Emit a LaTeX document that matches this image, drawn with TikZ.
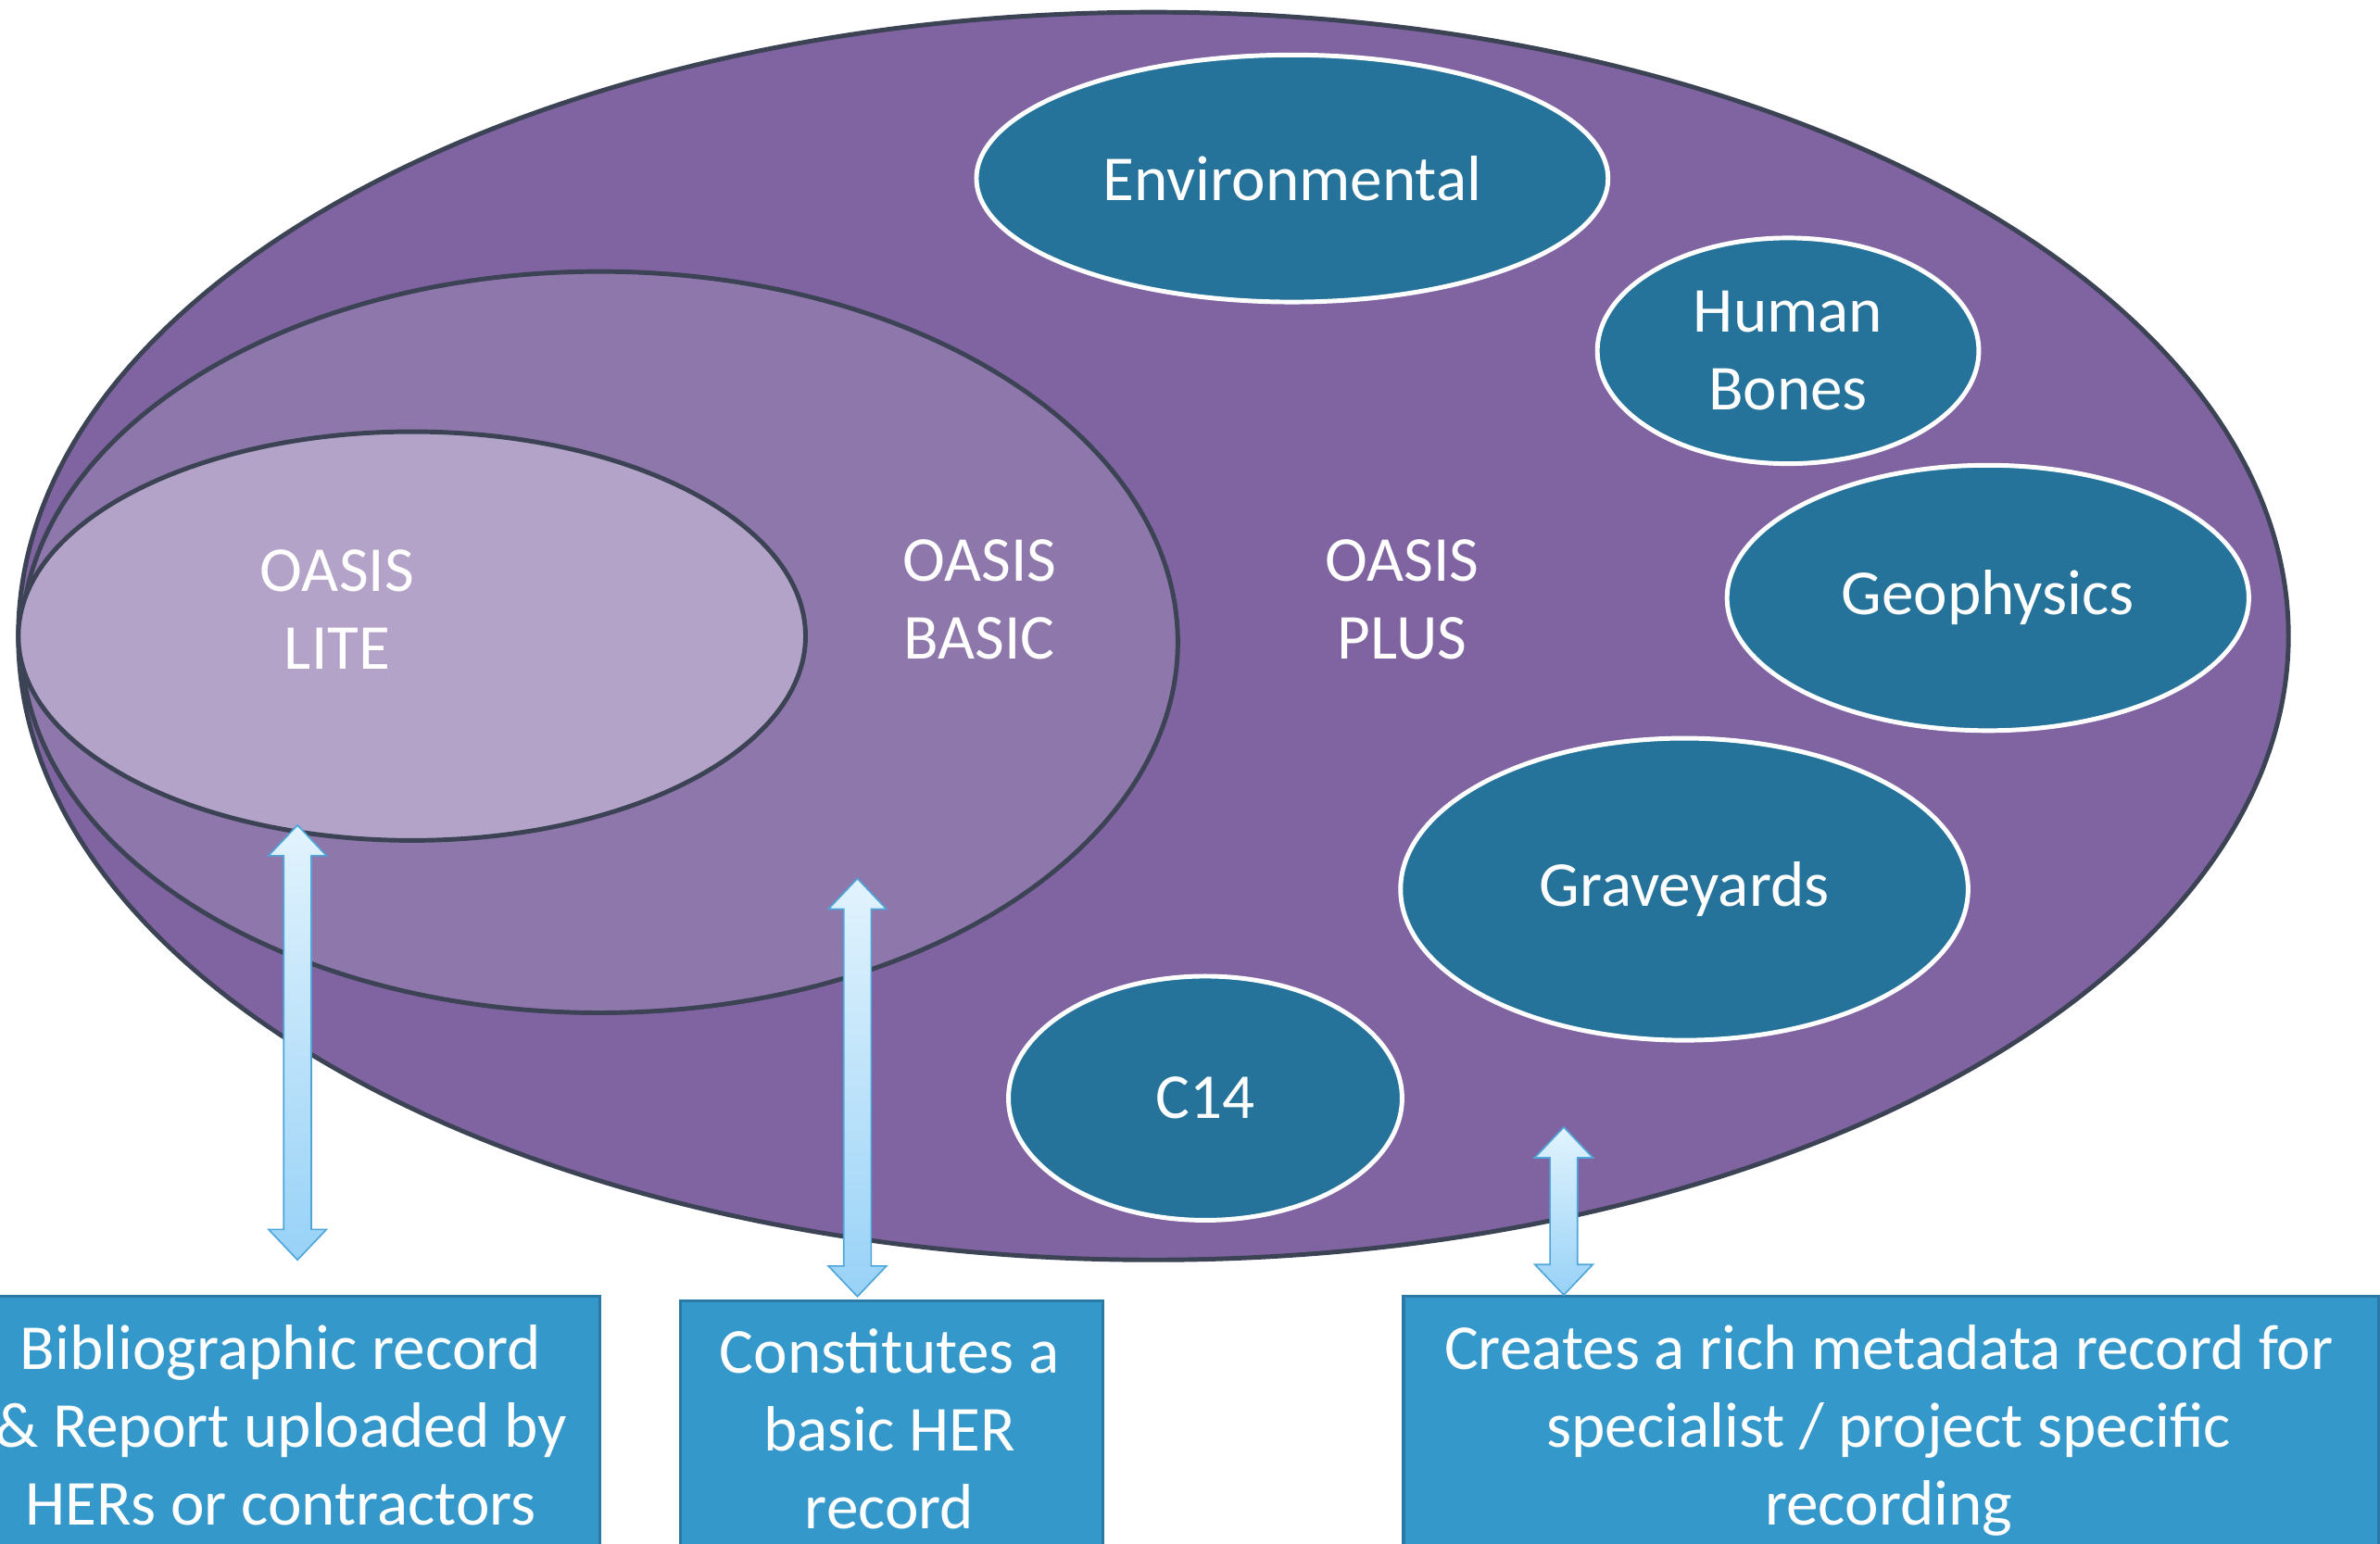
\documentclass[tikz,border=0pt]{standalone}
\usepackage{fontspec}
\setmainfont{Carlito}
\usetikzlibrary{shapes.geometric,calc}
\definecolor{plusc}{HTML}{8064A2}
\definecolor{basicc}{HTML}{8E77AB}
\definecolor{litec}{HTML}{B3A3C8}
\definecolor{edgec}{HTML}{3C4355}
\definecolor{tealc}{HTML}{25739A}
\definecolor{boxc}{HTML}{3598CB}
\definecolor{boxedge}{HTML}{2B7AA5}
\definecolor{arrtop}{HTML}{E2F3FD}
\definecolor{arrbot}{HTML}{98D2F7}
\definecolor{arredge}{HTML}{4FA6DA}
\newcommand\diagfont{\fontsize{42}{51}\selectfont}
\newcommand\hdarrow[2]{%
  \path[arr] let \p1=(#1), \p2=(#2) in
    (\x1,\y1) -- ++(19pt,-20pt) -- ++(-10pt,0pt) -- (\x1+9pt,\y2+20pt)
    -- ++(10pt,0pt) -- (\x2,\y2) -- ++(-19pt,20pt) -- ++(10pt,0pt)
    -- (\x1-9pt,\y1-20pt) -- ++(-10pt,0pt) -- cycle;}
\begin{document}
\begin{tikzpicture}[x=1pt,y=-1pt,
  level/.style={ellipse, draw=edgec, line width=3pt, inner sep=0pt},
  topic/.style={ellipse, fill=tealc, draw=white, line width=3pt, inner sep=0pt,
    text=white, font=\diagfont, align=center},
  lbl/.style={text=white, font=\diagfont, align=center, anchor=base, inner sep=0pt},
  infobox/.style={rectangle, fill=boxc, draw=boxedge, line width=2pt, inner sep=0pt, anchor=north west},
  arr/.style={top color=arrtop, bottom color=arrbot, draw=arredge, line width=1pt, line join=miter}]
\useasboundingbox (0,0) rectangle (1560,1011.7);
\clip (0,0) rectangle (1560,1011.7);

% nested levels
\node[level, fill=plusc, minimum width=1488pt, minimum height=818pt] (plus) at (756,417) {};
\node[level, fill=basicc, minimum width=758pt, minimum height=486pt] (basic) at (393,421) {};
\node[level, fill=litec, minimum width=516pt, minimum height=268pt] (lite) at (270,417) {};

% specialist topics
\node[topic, minimum width=414pt, minimum height=162pt] (env) at (847,117) {Environmental};
\node[topic, minimum width=250pt, minimum height=148pt] (hb) at (1172,230) {Human\\Bones};
\node[topic, minimum width=342pt, minimum height=174pt] (geo) at (1303,392) {Geophysics};
\node[topic, minimum width=372pt, minimum height=198pt] (grave) at (1104,583) {Graveyards};
\node[topic, minimum width=258pt, minimum height=160pt] (c14) at (790,720) {C14};

% level labels (anchor = baseline of last line)
\node[lbl] (tlite) at (221,439) {OASIS\\LITE};
\node[lbl] (tbasic) at (642,432) {OASIS\\BASIC};
\node[lbl] (tplus) at (919,432) {OASIS\\PLUS};

% boxes
\node[infobox, minimum width=416pt, minimum height=200pt] (box1) at (-24,849) {};
\node[infobox, minimum width=277pt, minimum height=200pt] (box2) at (445,852) {};
\node[infobox, minimum width=639pt, minimum height=200pt] (box3) at (919,849) {};
\node[lbl] (t1) at (184,1000) {Bibliographic record\\\& Report uploaded by\\HERs or contractors};
\node[lbl] (t2) at (583,1002) {Constitutes a\\basic HER\\record};
\node[lbl] (t3) at (1238,1000) {Creates a rich metadata record for\\specialist / project specific\\recording};

% arrows
\coordinate (a1t) at (195,541); \coordinate (a1b) at (195,826);
\coordinate (a2t) at (562,576); \coordinate (a2b) at (562,850);
\coordinate (a3t) at (1025,739); \coordinate (a3b) at (1025,849);
\hdarrow{a1t}{a1b}
\hdarrow{a2t}{a2b}
\hdarrow{a3t}{a3b}
\end{tikzpicture}
\end{document}
